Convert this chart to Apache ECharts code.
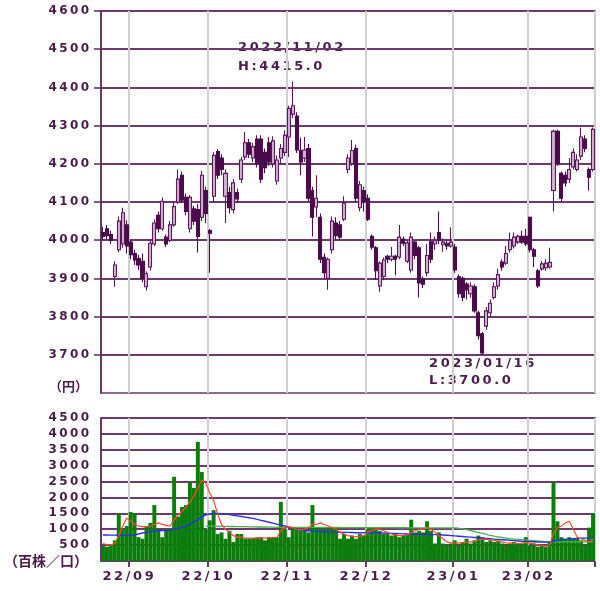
<!DOCTYPE html>
<html><head><meta charset="utf-8">
<script src="https://cdn.jsdelivr.net/npm/echarts@6/dist/echarts.min.js"></script>
<style>html,body{margin:0;padding:0;background:#fff}#c{width:600px;height:591px}</style>
</head><body><div id="c"></div>
<script>
// ---- data ----
const monthDays = {
  '2022/08': [23,24,25,26,29,30,31],
  '2022/09': [1,2,5,6,7,8,9,12,13,14,15,16,20,21,22,26,27,28,29,30],
  '2022/10': [3,4,5,6,7,11,12,13,14,17,18,19,20,21,24,25,26,27,28,31],
  '2022/11': [1,2,4,7,8,9,10,11,14,15,16,17,18,21,22,24,25,28,29,30],
  '2022/12': [1,2,5,6,7,8,9,12,13,14,15,16,19,20,21,22,23,26,27,28,29,30],
  '2023/01': [4,5,6,10,11,12,13,16,17,18,19,20,23,24,25,26,27,30,31],
  '2023/02': [1,2,3,6,7,8,9,10,13,14,15,16,17,20,21,22,24]
};
const monthLabels = ['22/09','22/10','22/11','22/12','23/01','23/02'];
const opens  = [4020,4030,4015,3905,3975,3990,4040,3995,3965,3952,3945,3878,3930,3990,4065,4030,4008,4000,4040,4100,4170,4112,4030,4082,4080,4060,4130,4025,4115,4232,4215,4115,4125,4080,4125,4160,4218,4255,4215,4265,4265,4230,4255,4200,4155,4215,4230,4270,4330,4325,4235,4215,4240,4130,4087,4060,3955,3900,3975,4045,4040,4055,4185,4200,4240,4085,4130,4110,4010,3980,3880,3905,3958,3950,3958,3956,4003,3945,3922,3995,3980,3898,3915,3996,3990,4020,3988,3992,3985,3982,3904,3900,3885,3860,3878,3810,3755,3775,3810,3850,3880,3943,3940,3975,3985,3995,4010,4010,4060,3975,3920,3925,3928,3930,4130,4285,4175,4170,4160,4192,4185,4220,4265,4185,4185];
const closes = [4010,4012,4000,3935,4050,4072,3985,3962,3948,3935,3900,3912,3992,4045,4030,4102,3990,4040,4088,4160,4105,4075,4112,4050,4010,4170,4070,4018,4222,4170,4185,4175,4085,4150,4108,4210,4255,4225,4245,4200,4160,4190,4205,4260,4210,4240,4275,4345,4352,4236,4205,4236,4110,4060,4110,3950,3915,3950,4050,4012,4008,4097,4215,4235,4110,4145,4100,4055,3982,3920,3940,3948,3950,3958,3950,4008,3992,3993,4008,3960,3888,3885,3960,3950,4000,4000,3995,3985,3995,3922,3860,3850,3870,3880,3815,3750,3705,3815,3835,3878,3910,3930,3965,4000,4008,4010,3995,3990,3975,3958,3880,3938,3940,3942,4285,4200,4110,4150,4185,4230,4210,4270,4240,4165,4290];
const lows   = [4000,4002,3990,3878,3968,3980,3965,3950,3935,3922,3890,3868,3920,3985,4020,4025,3982,3995,4035,4095,4098,4065,4020,4040,3968,4050,4045,3915,4100,4160,4170,4045,4070,4070,4098,4150,4210,4215,4205,4190,4150,4175,4195,4190,4145,4200,4220,4218,4320,4228,4170,4205,4100,4010,4060,3940,3900,3870,3965,4002,4000,4050,4175,4195,4100,4075,4075,4050,3975,3896,3865,3895,3940,3945,3908,3950,3985,3940,3915,3950,3850,3875,3905,3940,3975,3990,3970,3975,3980,3915,3850,3840,3845,3850,3810,3740,3700,3765,3800,3845,3870,3920,3935,3968,3978,3990,3990,3985,3968,3930,3875,3920,3920,3925,4075,4195,4100,4140,4150,4185,4180,4210,4230,4130,4180];
const highs  = [4035,4040,4025,3945,4062,4085,4052,4002,3975,3962,3965,3918,4002,4055,4075,4112,4015,4050,4100,4185,4180,4122,4118,4090,4095,4182,4140,4030,4230,4238,4225,4185,4140,4160,4135,4218,4283,4265,4255,4275,4275,4240,4270,4272,4222,4252,4288,4352,4415,4335,4268,4270,4252,4140,4170,4070,3965,3955,4062,4060,4050,4115,4225,4262,4250,4155,4140,4120,4015,3985,3945,3955,3962,3982,3962,4040,4010,4000,4020,4000,3985,3905,3990,4020,4010,4075,4005,4000,4034,3990,3910,3905,3890,3890,3885,3815,3760,3825,3845,3890,3925,3950,3985,4020,4020,4015,4025,4030,4062,3980,3925,3945,3950,3980,4290,4290,4180,4180,4215,4240,4225,4295,4275,4190,4295];
const volumes = [480,450,520,650,1500,1000,1100,1540,1500,750,700,1100,1200,1760,1000,750,1000,1000,2650,1400,1700,1760,2480,2300,3750,2800,1000,1280,1600,850,900,700,950,600,850,850,700,700,720,750,750,650,750,750,750,1860,1000,750,1050,1030,1000,950,900,1760,1050,1000,1050,1000,1050,1030,700,850,700,800,700,850,800,1000,1000,1000,950,850,850,800,850,750,800,850,1300,900,950,900,1250,950,550,900,550,500,550,650,500,600,700,550,650,800,750,600,650,600,650,550,500,550,600,500,550,750,500,550,450,500,450,600,2480,1250,750,700,750,700,700,650,500,1050,1500];
const volMaShort = [550,520,500,560,800,1100,1350,1250,1150,1100,1080,1080,1100,1150,1200,1150,1120,1100,1300,1450,1550,1700,1850,2050,2300,2550,2450,2150,1900,1500,1150,1000,900,800,750,750,720,720,720,720,730,720,730,740,740,950,1050,1080,1050,1000,980,1000,1050,1150,1150,1200,1150,1100,1050,1000,900,850,800,780,760,780,800,900,950,1000,1000,950,900,850,820,800,800,820,900,950,1000,1000,1050,1000,900,800,700,600,580,570,560,580,600,600,620,660,680,680,670,650,620,600,570,560,560,550,560,580,560,540,520,480,470,500,880,1050,1100,1200,1250,1000,750,700,650,600,700];
const volMaMid = [820,820,815,815,810,810,805,800,820,850,880,900,920,940,950,960,960,970,1000,1030,1060,1100,1150,1230,1300,1380,1450,1480,1500,1500,1490,1480,1460,1440,1420,1400,1380,1360,1340,1310,1280,1250,1220,1190,1160,1130,1100,1070,1040,1010,980,960,950,940,930,930,920,920,915,910,905,900,900,895,890,890,890,890,890,885,880,880,875,870,865,860,855,850,850,845,840,840,840,835,830,825,820,810,800,790,780,770,760,750,740,730,720,710,700,690,680,670,660,650,640,630,620,615,610,605,600,600,595,590,620,650,670,680,690,700,710,715,720,725,740];
const volMaLong = [null,null,null,null,null,null,null,null,null,null,null,null,null,null,null,null,null,null,null,null,null,null,null,null,null,null,1100,1100,1100,1095,1090,1090,1085,1085,1080,1080,1080,1075,1075,1070,1070,1070,1065,1065,1060,1060,1060,1060,1060,1060,1060,1058,1058,1057,1057,1056,1056,1055,1055,1054,1054,1053,1053,1052,1052,1051,1051,1050,1050,1050,1049,1049,1048,1048,1047,1047,1046,1046,1045,1045,1044,1044,1043,1043,1042,1042,1041,1041,1040,1040,1030,1010,990,960,930,900,870,840,810,780,760,740,720,700,690,680,670,660,650,640,630,620,610,600,600,600,600,600,600,600,600,600,600,600,600];
const priceTicks = [3700,3800,3900,4000,4100,4200,4300,4400,4500,4600];
const volTicks = [500,1000,1500,2000,2500,3000,3500,4000,4500];

// ---- build ----
const dates = [];
const monthStart = {};
Object.keys(monthDays).forEach((m, mi) => {
  monthDays[m].forEach((d, di) => {
    if (di === 0 && mi > 0) monthStart[dates.length] = monthLabels[mi - 1];
    dates.push(m + '/' + String(d).padStart(2, '0'));
  });
});
const ohlc = opens.map((o, i) => [o, closes[i], lows[i], highs[i]]);
const sp = s => String(s).split('').join('\u2009');
let hiI = 0, loI = 0;
highs.forEach((h, i) => { if (h > highs[hiI]) hiI = i; });
lows.forEach((l, i) => { if (l < lows[loI]) loI = i; });

const TXT = '#4a1c4a', PURP = '#6e3a6e', GRAYV = '#d0d0d0';
const FONT = 'DejaVu Sans';
const isStart = (i) => monthStart[i] !== undefined;

const chart = echarts.init(document.getElementById('c'), null, {renderer: 'canvas'});
const xBase = (gi) => ({
  type: 'category', data: dates, gridIndex: gi, boundaryGap: true,
  axisLine: {show: false},
  axisTick: {show: gi === 1, interval: (i) => isStart(i), length: 6, lineStyle: {color: PURP, width: 2}},
  axisLabel: {show: gi === 1, interval: (i) => isStart(i), formatter: (v, i) => sp(monthStart[i] || ''),
    color: TXT, fontFamily: FONT, fontWeight: 'bold', fontSize: 13, margin: 9, padding: [0, 5, 0, 0]},
  splitLine: {show: true, interval: (i) => isStart(i), lineStyle: {color: GRAYV, width: 2}}
});
chart.setOption({
  animation: false,
  backgroundColor: '#fff',
  grid: [
    {left: 101, top: 11, width: 494, height: 382, show: true, borderColor: '#6a3a6a', borderWidth: 1.5, backgroundColor: '#fff'},
    {left: 101, top: 418, width: 494, height: 143, show: true, borderColor: '#6a3a6a', borderWidth: 1.5, backgroundColor: '#fff'}
  ],
  xAxis: [xBase(0), xBase(1)],
  yAxis: [
    {type: 'value', gridIndex: 0, min: 3600, max: 4600, interval: 100,
     axisLine: {show: true, lineStyle: {color: '#5a2a5a', width: 1.5}},
     axisTick: {show: true, length: 7, customValues: priceTicks, lineStyle: {color: '#5a2a5a', width: 1.5}},
     axisLabel: {customValues: priceTicks, formatter: v => sp(v), color: TXT, fontFamily: FONT, fontWeight: 'bold', fontSize: 12, margin: 12},
     splitLine: {show: true, lineStyle: {color: PURP, width: 2}}},
    {type: 'value', gridIndex: 1, min: 0, max: 4500, interval: 500,
     axisLine: {show: true, lineStyle: {color: '#5a2a5a', width: 1.5}},
     axisTick: {show: false},
     axisLabel: {customValues: volTicks, formatter: v => sp(v), color: TXT, fontFamily: FONT, fontWeight: 'bold', fontSize: 12, margin: 12},
     splitLine: {show: true, lineStyle: {color: PURP, width: 2}}}
  ],
  series: [
    {type: 'candlestick', xAxisIndex: 0, yAxisIndex: 0, data: ohlc, barWidth: 3.6,
     itemStyle: {color: '#d4b6d4', color0: '#4a0c4a', borderColor: '#5a1a5a', borderColor0: '#4a0c4a', borderWidth: 1.1}},
    {type: 'bar', xAxisIndex: 1, yAxisIndex: 1, data: volumes, barWidth: '100%', barCategoryGap: '0%',
     itemStyle: {color: '#0c7d0c'}},
    {type: 'line', xAxisIndex: 1, yAxisIndex: 1, data: volMaLong, symbol: 'none', lineStyle: {color: '#4cb04c', width: 1.3}},
    {type: 'line', xAxisIndex: 1, yAxisIndex: 1, data: volMaMid, symbol: 'none', lineStyle: {color: '#2434e0', width: 1.4}},
    {type: 'line', xAxisIndex: 1, yAxisIndex: 1, data: volMaShort, symbol: 'none', lineStyle: {color: '#ff4a2a', width: 1.2}}
  ],
  graphic: [
    {type: 'text', left: 238, top: 41, style: {text: sp(dates[hiI]), font: 'bold 13px ' + FONT, fill: TXT}},
    {type: 'text', left: 238, top: 60, style: {text: sp('H:' + highs[hiI].toFixed(1)), font: 'bold 13px ' + FONT, fill: TXT}},
    {type: 'text', left: 429, top: 357, style: {text: sp(dates[loI]), font: 'bold 13px ' + FONT, fill: TXT}},
    {type: 'text', left: 429, top: 374, style: {text: sp('L:' + lows[loI].toFixed(1)), font: 'bold 13px ' + FONT, fill: TXT}},
    {type: 'text', right: 512, top: 380, style: {text: '（円）', font: 'bold 13px "Noto Sans CJK JP"', fill: TXT, textAlign: 'right'}},
    {type: 'text', right: 512, top: 554, style: {text: '（百株／口）', font: 'bold 14px "Noto Sans CJK JP"', fill: TXT, textAlign: 'right'}}
  ]
});
</script></body></html>
